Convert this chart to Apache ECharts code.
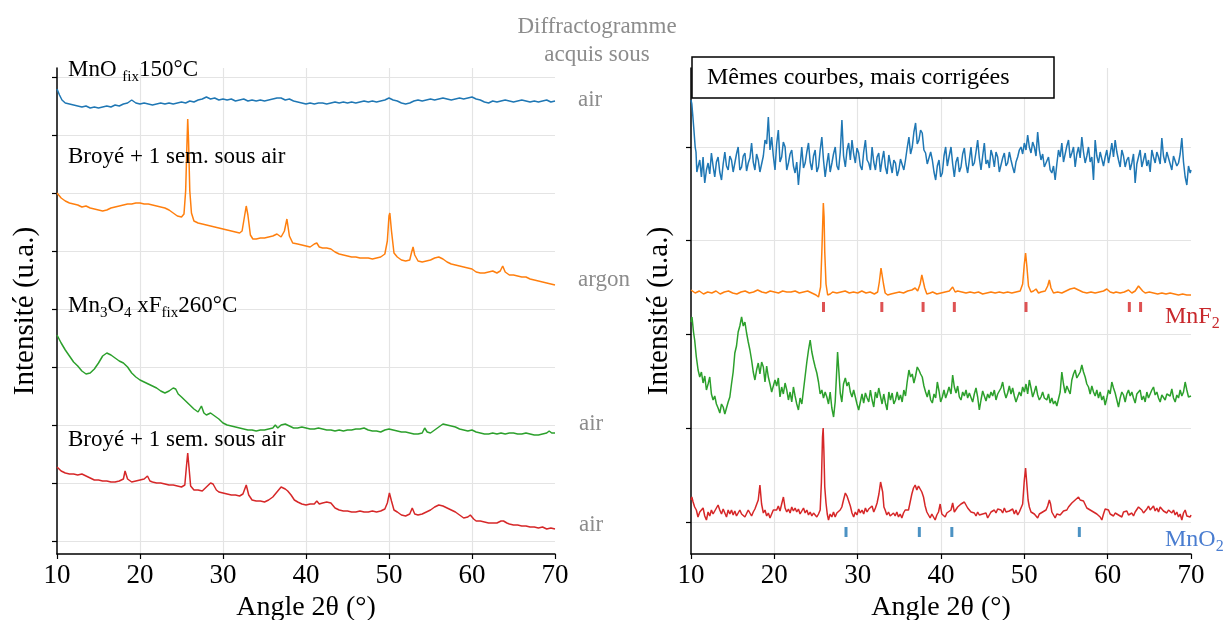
<!DOCTYPE html>
<html>
<head>
<meta charset="utf-8">
<script src="https://cdn.jsdelivr.net/npm/echarts@6/dist/echarts.min.js"></script>
<style>html,body{margin:0;padding:0;background:#fff;}#c{width:1224px;height:620px;}</style>
</head>
<body>
<div id="c"></div>
<script>
// ---------- DATA (2θ in degrees, intensity in arbitrary units) ----------
var xTicks = [10, 20, 30, 40, 50, 60, 70];
var leftYTicks = [0, 58, 116, 174, 232, 290, 348, 406, 464];
var rightYTicks = [0, 94, 188, 282, 375];

// Left panel (raw diffractograms)
var leftBlue = [[10,452],[10.3,446],[10.6,441],[11,438],[11.5,437],[12,436],[12.5,435],[13,434],[13.5,435],[14,433],[14.5,434],[15,433],[15.5,434],[16,435],[16.5,434],[17,436],[17.5,435],[18,437],[18.5,438],[19,441],[19.5,438],[20,437],[20.5,438],[21,437],[21.5,436],[22,437],[22.5,438],[23,437],[23.5,438],[24,437],[24.5,438],[25,439],[25.5,438],[26,440],[26.5,439],[27,441],[27.5,442],[28,444],[28.5,442],[29,443],[29.5,441],[30,442],[30.5,441],[31,442],[31.5,440],[32,441],[32.5,442],[33,440],[33.5,441],[34,440],[34.5,441],[35,440],[35.5,441],[36,442],[36.5,443],[37,443],[37.5,441],[38,442],[38.5,440],[39,439],[39.5,438],[40,437],[40.5,438],[41,437],[41.5,438],[42,438],[42.5,437],[43,438],[43.5,439],[44,438],[44.5,439],[45,438],[45.5,439],[46,438],[46.5,439],[47,440],[47.5,439],[48,440],[48.5,439],[49,440],[49.5,441],[50,443],[50.5,441],[51,440],[51.5,438],[52,437],[52.5,438],[53,440],[53.5,441],[54,440],[54.5,441],[55,442],[55.5,441],[56,442],[56.5,443],[57,442],[57.5,441],[58,442],[58.5,443],[59,442],[59.5,443],[60,444],[60.5,442],[61,441],[61.5,439],[62,438],[62.5,440],[63,439],[63.5,440],[64,441],[64.5,440],[65,439],[65.5,440],[66,441],[66.5,440],[67,439],[67.5,440],[68,439],[68.5,440],[69,441],[69.5,439],[70,440]];
var leftOrange = [[10,348],[10.5,343],[11,340],[11.5,338],[12,337],[12.5,336],[13,334],[13.5,335],[14,333],[14.5,332],[15,331],[15.5,330],[16,331],[16.5,333],[17,334],[17.5,335],[18,336],[18.5,337],[19,337],[19.5,338],[20,338],[20.5,337],[21,337],[21.5,336],[22,335],[22.5,334],[23,333],[23.5,331],[24,328],[24.5,325],[25,324],[25.3,327],[25.5,350],[25.65,395],[25.75,422],[25.85,400],[26,350],[26.2,328],[26.5,320],[27,318],[27.5,317],[28,316],[28.5,315],[29,314],[29.5,313],[30,312],[30.5,311],[31,310],[31.5,309],[32,308],[32.3,310],[32.6,325],[32.8,335],[33,326],[33.3,306],[33.6,302],[34,302],[34.5,303],[35,303],[35.5,304],[36,305],[36.5,307],[37,304],[37.4,310],[37.7,322],[38,305],[38.4,298],[39,297],[39.5,296],[40,295],[40.5,294],[41,297],[41.3,298],[41.6,294],[42,293],[42.5,293],[43,292],[43.5,289],[44,287],[44.5,286],[45,285],[45.5,284],[46,284],[46.5,283],[47,283],[47.5,283],[48,282],[48.5,283],[49,284],[49.5,287],[49.8,300],[50,325],[50.1,328],[50.3,310],[50.6,288],[51,284],[51.5,281],[52,280],[52.5,281],[52.7,288],[52.9,294],[53.1,286],[53.5,280],[54,279],[54.5,280],[55,281],[55.5,283],[56,284],[56.5,282],[57,279],[57.5,277],[58,276],[58.5,275],[59,274],[59.5,273],[60,272],[60.5,269],[61,268],[61.5,268],[62,269],[62.5,270],[63,268],[63.4,270],[63.7,275],[64,269],[64.5,266],[65,266],[65.5,265],[66,264],[66.5,264],[67,262],[67.5,261],[68,260],[68.5,259],[69,258],[69.5,257],[70,256]];
var leftGreen = [[10,206],[10.5,198],[11,191],[11.5,185],[12,179],[12.5,175],[13,170],[13.5,167],[14,168],[14.5,172],[15,178],[15.5,185],[16,188],[16.5,186],[17,183],[17.5,180],[18,178],[18.5,174],[19,168],[19.5,164],[20,161],[20.5,159],[21,157],[21.5,155],[22,153],[22.5,150],[23,148],[23.5,150],[24,153],[24.3,152],[24.6,147],[25,144],[25.5,140],[26,136],[26.5,132],[27,129],[27.4,135],[27.7,128],[28,126],[28.5,128],[29,125],[29.5,122],[30,118],[30.5,116],[31,115],[31.5,114],[32,113],[32.5,112],[33,111],[33.5,111],[34,110],[34.5,111],[35,111],[35.5,112],[36,113],[36.3,116],[36.6,113],[37,116],[37.5,117],[38,115],[38.5,113],[39,113],[39.5,114],[40,113],[40.5,112],[41,112],[41.5,113],[42,112],[42.5,111],[43,111],[43.5,110],[44,111],[44.5,110],[45,111],[45.5,111],[46,112],[46.5,112],[47,113],[47.5,111],[48,110],[48.5,110],[49,109],[49.5,111],[50,112],[50.5,111],[51,110],[51.5,109],[52,109],[52.5,108],[53,107],[53.5,107],[54,108],[54.3,113],[54.6,109],[55,108],[55.5,111],[56,114],[56.5,117],[57,116],[57.5,115],[58,114],[58.5,112],[59,111],[59.5,110],[60,111],[60.5,109],[61,108],[61.5,107],[62,107],[62.5,108],[63,107],[63.5,108],[64,107],[64.5,108],[65,108],[65.5,107],[66,107],[66.5,108],[67,107],[67.5,106],[68,106],[68.5,107],[69,108],[69.3,110],[69.6,108],[70,108]];
var leftRed = [[10,74],[10.5,70],[11,68],[11.5,67],[12,67],[12.5,66],[13,67],[13.5,65],[14,63],[14.5,61],[15,61],[15.5,60],[16,60],[16.5,59],[17,59],[17.5,60],[18,62],[18.2,70],[18.5,62],[19,59],[19.5,60],[20,61],[20.5,62],[20.9,65],[21.2,60],[21.5,59],[22,58],[22.5,58],[23,57],[23.5,56],[24,56],[24.5,55],[25,54],[25.4,56],[25.6,75],[25.75,88],[25.9,74],[26.1,55],[26.5,51],[27,51],[27.5,50],[28,54],[28.5,58],[28.8,57],[29.2,51],[29.5,49],[30,48],[30.5,47],[31,46],[31.5,46],[32,45],[32.4,47],[32.8,56],[33.1,46],[33.5,41],[34,40],[34.5,40],[35,39],[35.5,41],[36,44],[36.5,49],[37,54],[37.5,52],[37.8,50],[38.2,46],[38.6,41],[39,39],[39.5,37],[40,36],[40.5,37],[41,37],[41.3,40],[41.6,37],[42,38],[42.5,39],[43,38],[43.5,33],[44,31],[44.5,30],[45,30],[45.5,29],[46,29],[46.5,30],[47,29],[47.5,29],[48,30],[48.5,29],[49,30],[49.5,32],[49.8,38],[50.05,48],[50.3,40],[50.6,31],[51,29],[51.5,26],[52,25],[52.5,27],[52.8,33],[53.1,27],[53.5,26],[54,27],[54.5,29],[55,31],[55.5,34],[56,36],[56.5,35],[57,33],[57.5,31],[58,29],[58.5,26],[59,23],[59.5,24],[59.8,26],[60.2,22],[60.5,20],[61,20],[61.5,19],[62,18],[62.5,18],[63,18],[63.5,20],[63.8,20],[64.2,18],[64.5,17],[65,16],[65.5,16],[66,15],[66.5,15],[67,14],[67.5,14],[68,13],[68.5,14],[69,12],[69.5,13],[70,12]];

// Right panel (corrected diffractograms)
var rightBlue = [[10,422],[10.1,418],[10.2,408],[10.35,392],[10.5,375],[10.6,370],[10.7,350],[10.84,355],[11.05,362],[11.25,345],[11.45,365],[11.55,350],[11.65,339],[11.85,352],[12.05,359],[12.25,348],[12.45,369],[12.65,356],[12.85,345],[13.05,360],[13.25,365],[13.45,350],[13.66,342],[13.86,358],[14.06,370],[14.26,356],[14.46,352],[14.66,366],[14.86,362],[15.06,350],[15.26,349],[15.46,368],[15.66,375],[15.86,352],[16.07,355],[16.27,366],[16.47,369],[16.67,351],[16.87,359],[17.07,364],[17.27,379],[17.47,360],[17.67,352],[17.87,368],[18.07,362],[18.27,350],[18.48,349],[18.68,366],[18.88,382],[19.08,378],[19.28,405],[19.48,372],[19.68,385],[19.88,366],[20.08,352],[20.28,378],[20.48,392],[20.68,360],[20.88,365],[21.08,380],[21.29,375],[21.49,352],[21.69,359],[21.89,368],[22.09,372],[22.29,356],[22.49,349],[22.69,360],[22.89,337],[23.09,356],[23.29,375],[23.5,354],[23.7,359],[23.9,370],[24.1,379],[24.3,360],[24.5,352],[24.7,366],[24.9,372],[25.1,350],[25.3,355],[25.5,372],[25.7,385],[25.9,362],[26.1,345],[26.3,358],[26.5,369],[26.7,350],[26.91,359],[27.1,368],[27.31,375],[27.51,356],[27.71,352],[27.91,370],[28.11,402],[28.31,366],[28.52,355],[28.72,372],[28.92,379],[29.12,362],[29.32,382],[29.52,368],[29.72,359],[29.92,374],[30.12,369],[30.32,356],[30.52,352],[30.72,370],[30.93,382],[31.13,362],[31.33,359],[31.53,352],[31.73,375],[31.93,360],[32.13,352],[32.33,365],[32.53,369],[32.73,350],[32.93,362],[33.13,371],[33.33,355],[33.53,348],[33.74,367],[33.94,358],[34.14,349],[34.34,362],[34.54,359],[34.74,346],[34.94,352],[35.14,363],[35.34,365],[35.54,352],[35.74,362],[35.94,374],[36.15,385],[36.35,368],[36.55,375],[36.75,390],[36.95,399],[37.15,378],[37.35,382],[37.55,392],[37.75,389],[37.95,372],[38.15,369],[38.35,358],[38.56,359],[38.76,370],[38.96,362],[39.16,350],[39.36,342],[39.56,356],[39.76,362],[39.96,345],[40.16,349],[40.36,366],[40.56,375],[40.76,356],[40.96,365],[41.2,375],[41.4,358],[41.6,345],[41.8,360],[42,365],[42.2,350],[42.4,355],[42.6,368],[42.8,374],[43,358],[43.2,349],[43.4,362],[43.6,375],[43.8,356],[44,359],[44.2,370],[44.4,382],[44.6,364],[44.8,352],[45,366],[45.2,379],[45.4,358],[45.6,362],[45.8,354],[46,372],[46.2,366],[46.4,355],[46.6,370],[46.8,365],[47,350],[47.2,352],[47.4,364],[47.6,369],[47.8,356],[48,359],[48.2,370],[48.4,362],[48.6,355],[48.8,349],[49,360],[49.2,365],[49.4,372],[49.6,375],[49.8,368],[50,379],[50.2,372],[50.4,387],[50.6,375],[50.8,369],[51,380],[51.2,375],[51.4,366],[51.6,390],[51.8,372],[52,362],[52.2,368],[52.4,355],[52.65,360],[52.9,365],[53.1,352],[53.3,349],[53.5,356],[53.7,342],[53.9,358],[54.1,372],[54.3,365],[54.5,379],[54.7,360],[54.9,362],[55.1,376],[55.3,382],[55.5,364],[55.7,369],[55.9,375],[56.1,355],[56.3,368],[56.5,375],[56.7,364],[56.9,385],[57.1,370],[57.3,359],[57.5,366],[57.7,375],[57.9,360],[58.1,365],[58.3,342],[58.5,382],[58.7,366],[58.9,359],[59.1,370],[59.3,372],[59.5,356],[59.7,365],[59.9,372],[60.1,359],[60.3,368],[60.5,379],[60.7,365],[60.9,382],[61.1,370],[61.3,362],[61.5,355],[61.7,372],[61.9,366],[62.1,355],[62.3,362],[62.5,365],[62.7,352],[62.9,359],[63.1,368],[63.3,339],[63.5,358],[63.7,365],[63.9,372],[64.1,355],[64.3,362],[64.5,369],[64.7,356],[64.9,362],[65.1,350],[65.3,372],[65.5,365],[65.7,359],[65.9,370],[66.1,365],[66.3,358],[66.5,384],[66.7,366],[66.9,359],[67.1,370],[67.3,372],[67.5,358],[67.7,352],[67.9,366],[68.1,365],[68.3,356],[68.5,359],[68.7,368],[68.9,384],[69.1,360],[69.3,345],[69.5,337],[69.7,356],[69.9,349],[70,352]];
var rightOrange = [[10,232],[10.5,229],[11,231],[11.5,228],[12,230],[12.5,229],[13,231],[13.5,228],[14,230],[14.5,231],[15,229],[15.5,228],[16,230],[16.5,231],[17,229],[17.5,230],[18,232],[18.5,230],[19,229],[19.5,231],[20,230],[20.5,229],[21,231],[21.5,230],[22,230],[22.5,231],[23,229],[23.5,230],[24,231],[24.5,229],[25,227],[25.3,225],[25.55,235],[25.7,270],[25.88,319],[25.97,305],[26.05,270],[26.2,238],[26.4,227],[26.7,228],[27,230],[27.5,229],[28,230],[28.5,231],[29,229],[29.5,230],[30,229],[30.5,231],[31,229],[31.5,230],[32,228],[32.4,230],[32.6,240],[32.8,254],[32.95,252],[33.1,238],[33.3,229],[33.6,227],[34,228],[34.5,229],[35,230],[35.5,229],[36,231],[36.5,232],[36.9,234],[37.2,231],[37.5,238],[37.7,247],[37.85,245],[38.05,234],[38.3,228],[38.7,229],[39,230],[39.5,228],[40,229],[40.5,230],[41,231],[41.4,235],[41.7,230],[42,231],[42.5,230],[43,229],[43.5,230],[44,229],[44.5,230],[45,228],[45.5,229],[46,230],[46.5,229],[47,230],[47.5,229],[48,230],[48.5,229],[49,230],[49.5,231],[49.8,238],[50,258],[50.15,269],[50.3,256],[50.5,236],[50.8,230],[51.1,231],[51.4,233],[51.7,229],[52,230],[52.5,231],[52.8,236],[53,242],[53.2,234],[53.5,229],[54,230],[54.5,229],[55,231],[55.5,233],[56,234],[56.5,232],[57,230],[57.5,229],[58,230],[58.5,229],[59,230],[59.5,231],[59.9,233],[60.3,230],[60.7,229],[61,230],[61.5,229],[62,230],[62.5,232],[62.9,229],[63.3,231],[63.7,236],[63.9,237],[64.2,231],[64.5,229],[65,230],[65.5,229],[66,228],[66.5,229],[67,228],[67.5,229],[68,228],[68.5,227],[69,228],[69.5,227],[70,227]];
var rightGreen = [[10,200],[10.12,205],[10.3,190],[10.44,182],[10.64,165],[10.85,152],[11.05,145],[11.25,150],[11.45,139],[11.65,146],[11.85,132],[12.05,138],[12.25,145],[12.45,128],[12.65,122],[12.85,126],[13.05,118],[13.25,114],[13.46,109],[13.66,118],[13.86,115],[14.06,108],[14.26,114],[14.46,120],[14.66,125],[14.86,138],[15.06,150],[15.26,169],[15.46,176],[15.66,190],[15.86,196],[16.07,205],[16.27,196],[16.47,200],[16.67,189],[16.87,180],[17.07,172],[17.27,162],[17.47,150],[17.67,142],[17.87,152],[18.07,159],[18.27,148],[18.48,160],[18.68,155],[18.88,140],[19.08,156],[19.28,145],[19.48,138],[19.68,130],[19.88,128],[20.08,142],[20.28,136],[20.48,144],[20.68,125],[20.88,135],[21.08,128],[21.29,139],[21.49,132],[21.69,122],[21.89,130],[22.09,120],[22.29,135],[22.49,126],[22.69,118],[22.89,112],[23.09,124],[23.3,118],[23.5,132],[23.7,146],[23.9,160],[24.1,172],[24.3,182],[24.5,170],[24.7,162],[24.9,155],[25.1,149],[25.3,140],[25.5,128],[25.7,132],[25.9,124],[26.1,130],[26.3,125],[26.5,118],[26.7,130],[26.9,114],[27.11,105],[27.3,120],[27.45,145],[27.59,170],[27.75,150],[27.91,129],[28.1,120],[28.3,138],[28.52,144],[28.72,136],[28.92,140],[29.12,130],[29.32,125],[29.52,132],[29.72,130],[29.92,118],[30.12,112],[30.32,120],[30.52,128],[30.72,119],[30.93,129],[31.13,124],[31.33,120],[31.53,132],[31.73,122],[31.93,115],[32.13,130],[32.33,124],[32.53,134],[32.73,126],[32.93,118],[33.13,128],[33.33,119],[33.53,112],[33.74,130],[33.94,122],[34.14,129],[34.34,118],[34.54,122],[34.74,130],[34.94,122],[35.14,127],[35.34,120],[35.54,132],[35.74,126],[35.94,140],[36.15,152],[36.35,145],[36.55,148],[36.75,139],[36.95,146],[37.15,155],[37.35,152],[37.55,148],[37.75,145],[37.95,136],[38.15,130],[38.35,125],[38.55,132],[38.76,122],[38.96,119],[39.16,128],[39.36,124],[39.56,140],[39.76,131],[39.96,120],[40.16,125],[40.36,132],[40.56,124],[40.76,129],[40.96,135],[41.2,128],[41.4,147],[41.6,135],[41.8,129],[42,136],[42.2,125],[42.4,122],[42.6,130],[42.8,126],[43,132],[43.2,124],[43.4,129],[43.6,127],[43.8,120],[44,128],[44.2,134],[44.4,125],[44.6,112],[44.8,122],[45,131],[45.2,129],[45.4,121],[45.6,128],[45.8,124],[46,130],[46.2,126],[46.4,132],[46.6,122],[46.8,128],[47,127],[47.2,134],[47.4,140],[47.6,130],[47.8,124],[48,129],[48.2,136],[48.4,128],[48.6,134],[48.8,126],[49,120],[49.2,122],[49.4,130],[49.6,126],[49.8,135],[50,130],[50.2,138],[50.4,128],[50.6,142],[50.8,134],[51,125],[51.2,130],[51.4,136],[51.6,127],[51.8,122],[52,125],[52.2,130],[52.4,124],[52.7,122],[52.9,128],[53.1,119],[53.3,124],[53.5,118],[53.7,121],[53.9,116],[54.1,114],[54.3,130],[54.5,150],[54.7,138],[54.9,129],[55.1,136],[55.3,134],[55.5,128],[55.7,142],[55.9,148],[56.1,152],[56.3,144],[56.5,145],[56.7,150],[56.9,157],[57.1,150],[57.3,145],[57.5,138],[57.7,135],[57.9,128],[58.1,136],[58.3,130],[58.5,126],[58.7,132],[58.9,124],[59.1,130],[59.3,122],[59.5,126],[59.7,117],[59.9,124],[60.1,132],[60.3,128],[60.5,140],[60.7,134],[60.9,129],[61.1,122],[61.3,115],[61.5,124],[61.7,130],[61.9,127],[62.1,120],[62.3,128],[62.5,132],[62.7,126],[62.9,130],[63.1,124],[63.3,119],[63.5,128],[63.7,127],[63.9,132],[64.1,122],[64.3,126],[64.5,120],[64.7,130],[64.9,124],[65.1,128],[65.3,132],[65.5,135],[65.7,127],[65.9,130],[66.1,124],[66.3,120],[66.5,127],[66.7,129],[66.9,122],[67.1,128],[67.3,130],[67.5,126],[67.7,133],[67.9,124],[68.1,120],[68.3,127],[68.5,124],[68.7,132],[68.9,126],[69.1,130],[69.3,140],[69.5,132],[69.7,125],[69.9,123],[70,126]];
var rightRed = [[10,22],[10.1,25],[10.25,20],[10.44,15],[10.64,12],[10.84,5],[11.05,10],[11.25,8],[11.45,14],[11.65,6],[11.85,2],[12.05,10],[12.25,6],[12.45,12],[12.65,8],[12.85,11],[13.05,14],[13.25,17],[13.45,12],[13.66,8],[13.86,13],[14.06,9],[14.26,5],[14.46,12],[14.66,8],[14.86,12],[15.06,7],[15.26,11],[15.46,6],[15.66,9],[15.86,12],[16.07,8],[16.27,10],[16.47,5],[16.67,7],[16.87,12],[17.07,9],[17.27,6],[17.47,10],[17.67,13],[17.87,15],[18.07,22],[18.27,37],[18.47,18],[18.68,9],[18.88,12],[19.08,6],[19.28,9],[19.48,4],[19.68,8],[19.88,12],[20.08,10],[20.28,12],[20.48,16],[20.68,11],[20.88,18],[21.09,25],[21.29,14],[21.49,10],[21.69,13],[21.89,9],[22.09,15],[22.29,11],[22.49,14],[22.69,10],[22.89,13],[23.09,8],[23.3,10],[23.5,14],[23.7,9],[23.9,12],[24.1,7],[24.3,10],[24.5,6],[24.7,9],[24.9,7],[25.1,5],[25.3,8],[25.5,12],[25.65,40],[25.78,85],[25.86,94],[25.95,70],[26.05,35],[26.2,19],[26.35,8],[26.5,2],[26.7,8],[26.9,5],[27.1,10],[27.3,5],[27.5,9],[27.7,7],[27.9,12],[28.1,15],[28.3,22],[28.52,29],[28.72,26],[28.92,25],[29.12,16],[29.32,9],[29.52,5],[29.72,10],[29.92,7],[30.12,13],[30.32,9],[30.52,12],[30.72,8],[30.93,14],[31.13,10],[31.33,13],[31.53,12],[31.73,16],[31.93,10],[32.13,14],[32.33,19],[32.55,28],[32.75,40],[32.85,41],[33.0,30],[33.15,15],[33.3,12],[33.5,7],[33.7,10],[33.9,6],[34.1,4],[34.3,9],[34.5,6],[34.7,10],[34.9,5],[35.1,8],[35.3,4],[35.5,9],[35.7,12],[35.9,10],[36.1,12],[36.3,20],[36.5,28],[36.7,34],[36.9,37],[37.1,32],[37.3,36],[37.5,35],[37.7,30],[37.9,25],[38.1,16],[38.3,10],[38.5,7],[38.7,4],[38.9,8],[39.1,5],[39.3,2],[39.5,7],[39.7,10],[39.9,18],[40.1,8],[40.3,6],[40.5,5],[40.7,9],[40.9,8],[41.2,12],[41.4,19],[41.6,10],[41.8,12],[42,15],[42.2,13],[42.4,18],[42.6,17],[42.8,20],[43,19],[43.2,14],[43.4,12],[43.6,10],[43.8,8],[44,9],[44.2,6],[44.4,10],[44.6,7],[44.8,5],[45,8],[45.2,6],[45.4,9],[45.6,4],[45.8,7],[46,10],[46.2,8],[46.4,12],[46.6,9],[46.8,13],[47,11],[47.2,12],[47.4,9],[47.6,14],[47.8,10],[48,8],[48.2,11],[48.4,10],[48.6,13],[48.8,8],[49,12],[49.2,7],[49.4,10],[49.6,9],[49.8,18],[50,42],[50.15,54],[50.3,38],[50.45,22],[50.6,15],[50.8,10],[51,12],[51.2,8],[51.4,6],[51.6,4],[51.8,8],[52,6],[52.2,10],[52.4,8],[52.6,12],[52.8,16],[53,22],[53.15,18],[53.3,10],[53.5,7],[53.7,4],[53.9,8],[54.1,10],[54.3,7],[54.5,9],[54.7,11],[54.9,9],[55.1,12],[55.3,15],[55.5,14],[55.7,19],[55.9,17],[56.1,22],[56.3,21],[56.5,25],[56.7,22],[56.9,20],[57.1,21],[57.3,19],[57.5,14],[57.7,16],[57.9,12],[58.1,14],[58.3,10],[58.5,12],[58.7,8],[58.9,6],[59.1,5],[59.3,2],[59.5,8],[59.7,13],[59.9,15],[60.1,12],[60.3,8],[60.5,10],[60.7,6],[60.9,9],[61.1,11],[61.3,7],[61.5,9],[61.7,5],[61.9,10],[62.1,8],[62.3,11],[62.5,7],[62.7,9],[62.9,9],[63.1,6],[63.3,10],[63.5,12],[63.7,15],[63.9,17],[64.1,12],[64.3,9],[64.5,11],[64.7,13],[64.9,16],[65.1,12],[65.3,12],[65.5,16],[65.7,11],[65.9,14],[66.1,10],[66.3,15],[66.5,14],[66.7,11],[66.9,13],[67.1,9],[67.3,12],[67.5,10],[67.7,9],[67.9,12],[68.1,7],[68.3,10],[68.5,5],[68.7,8],[68.9,2],[69.1,9],[69.3,12],[69.5,6],[69.7,8],[69.9,5],[70,7]];

// Reference peak positions (2θ) and their marker level
var mnf2Peaks = [25.9, 32.9, 37.85, 41.6, 50.2, 62.6, 63.95];
var mno2Peaks = [28.6, 37.4, 41.3, 56.6];
var mnf2Level = 215;
var mno2Level = -10;

// ---------- CHART ----------
var FONT = '"Liberation Serif", "DejaVu Serif", serif';
var C = {blue:'#1f77b4', orange:'#ff7f0e', green:'#2ca02c', red:'#d62728'};
var chart = echarts.init(document.getElementById('c'), null, {renderer:'canvas'});

function xAx(gi){
  return {
    type:'value', gridIndex:gi, min:xTicks[0], max:xTicks[xTicks.length-1], interval:10,
    axisLine:{show:true, onZero:false, lineStyle:{color:'#000', width:1.5}},
    axisTick:{show:true, length:5, lineStyle:{color:'#000', width:1.2}},
    axisLabel:{color:'#000', fontFamily:FONT, fontSize:27, margin:8},
    splitLine:{show:true, showMaxLine:false, showMinLine:false, lineStyle:{color:'#e4e4e4', width:1.2}},
    name:'Angle 2θ (°)', nameLocation:'middle', nameGap:38,
    nameTextStyle:{color:'#000', fontFamily:FONT, fontSize:28}
  };
}
function yAx(gi, mn, mx, ticks){
  return {
    type:'value', gridIndex:gi, min:mn, max:mx,
    axisLine:{show:true, onZero:false, lineStyle:{color:'#000', width:1.5}},
    axisTick:{show:true, length:5, customValues:ticks, lineStyle:{color:'#000', width:1.2}},
    axisLabel:{show:false, customValues:ticks},
    splitLine:{show:true, lineStyle:{color:'#e4e4e4', width:1.2}},
    name:'Intensité (u.a.)', nameLocation:'middle', nameGap:17,
    nameTextStyle:{color:'#000', fontFamily:FONT, fontSize:29}
  };
}
function line(data, color, gi){
  return {type:'line', data:data, xAxisIndex:gi, yAxisIndex:gi, showSymbol:false, symbol:'none',
          lineStyle:{color:color, width:1.5}, itemStyle:{color:color}, silent:true, z:3};
}
function ticksSeries(peaks, level, color){
  return {type:'scatter', xAxisIndex:1, yAxisIndex:1, symbol:'rect', symbolSize:[3,10],
          itemStyle:{color:color}, silent:true,
          data:peaks.map(function(p){return [p, level];})};
}
function rt(x, y, text, rich, align){
  return {type:'text', x:x, y:y, z:100, silent:true,
          style:{text:text, rich:rich, align:align||'left', textAlign:align||'left',
                 verticalAlign:'middle', textVerticalAlign:'middle',
                 font:'23px ' + FONT, fill:'#000'}};
}
function richSet(color, size){
  size = size || 23;
  return {
    a:{fontSize:size, fontFamily:FONT, fill:color, color:color, lineHeight:30, verticalAlign:'middle'},
    s:{fontSize:Math.round(size*0.66), fontFamily:FONT, fill:color, color:color, lineHeight:12, verticalAlign:'bottom'}
  };
}
var black = richSet('#000');
var gray = richSet('#8c8c8c');

var option = {
  backgroundColor:'#fff',
  animation:false,
  grid:[
    {left:57, right:669, top:68, bottom:66, outerBoundsMode:'none', containLabel:false},
    {left:691, right:33, top:68, bottom:66, outerBoundsMode:'none', containLabel:false}
  ],
  xAxis:[xAx(0), xAx(1)],
  yAxis:[yAx(0, -13, 473, leftYTicks), yAx(1, -32, 454, rightYTicks)],
  series:[
    line(leftBlue, C.blue, 0), line(leftOrange, C.orange, 0), line(leftGreen, C.green, 0), line(leftRed, C.red, 0),
    line(rightBlue, C.blue, 1), line(rightOrange, C.orange, 1), line(rightGreen, C.green, 1), line(rightRed, C.red, 1),
    ticksSeries(mnf2Peaks, mnf2Level, C.red), ticksSeries(mno2Peaks, mno2Level, C.blue)
  ],
  graphic:[
    rt(68, 70, '{a|MnO }{s|fix}{a|150°C}', black),
    rt(68, 157, '{a|Broyé + 1 sem. sous air}', black),
    rt(68, 306, '{a|Mn}{s|3}{a|O}{s|4}{a| xF}{s|fix}{a|260°C}', black),
    rt(68, 440, '{a|Broyé + 1 sem. sous air}', black),
    rt(597, 27, '{a|Diffractogramme}', gray, 'center'),
    rt(597, 55, '{a|acquis sous}', gray, 'center'),
    rt(578, 100, '{a|air}', gray),
    rt(578, 280, '{a|argon}', gray),
    rt(579, 424, '{a|air}', gray),
    rt(579, 525, '{a|air}', gray),
    rt(1165, 317, '{a|MnF}{s|2}', richSet('#c8282c', 24)),
    rt(1165, 540, '{a|MnO}{s|2}', richSet('#4a7dd0', 24)),
    {type:'rect', z:90, silent:true, shape:{x:692, y:57, width:362, height:41},
     style:{fill:'#fff', stroke:'#000', lineWidth:1.5}},
    rt(707, 78, '{a|Mêmes courbes, mais corrigées}', richSet('#000', 24))
  ]
};
chart.setOption(option);
</script>
</body>
</html>
